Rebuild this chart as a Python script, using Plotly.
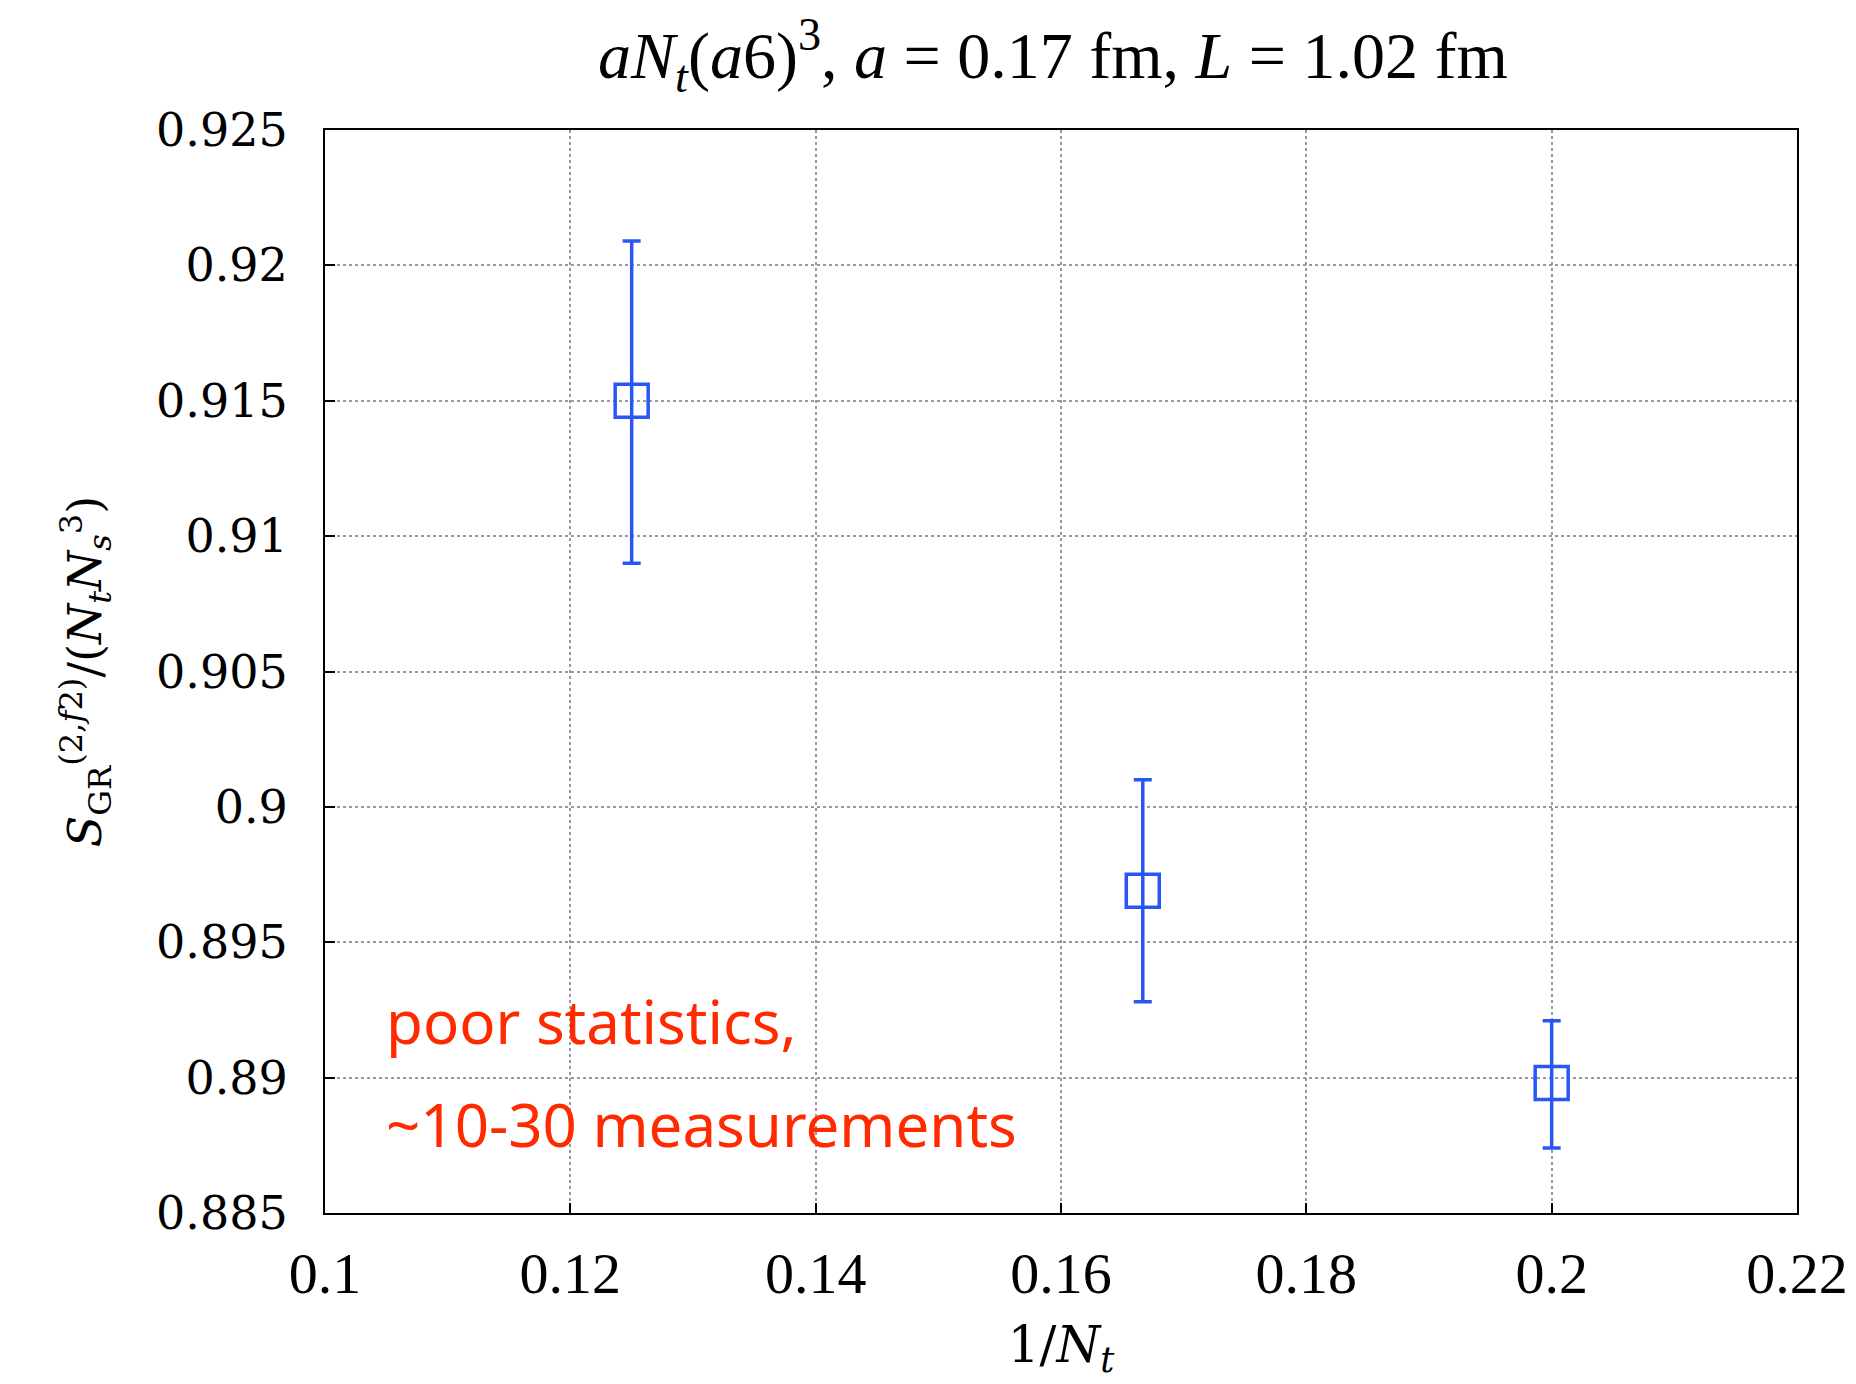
import plotly.graph_objects as go

inv_nt = [0.125, 1/6, 0.2]
s_val = [0.915, 0.8969, 0.8898]
s_err_plus = [0.0059, 0.0041, 0.0023]
s_err_minus = [0.0060, 0.0041, 0.0024]

x_ticks = [0.1, 0.12, 0.14, 0.16, 0.18, 0.2, 0.22]
x_ticktext = ["0.1", "0.12", "0.14", "0.16", "0.18", "0.2", "0.22"]
y_ticks = [0.885, 0.89, 0.895, 0.9, 0.905, 0.91, 0.915, 0.92, 0.925]
y_ticktext = ["0.885", "0.89", "0.895", "0.9", "0.905", "0.91", "0.915", "0.92", "0.925"]

blue = "#2a56f5"
red = "#ff2a00"
serif = "Liberation Serif, DejaVu Serif, serif"
wserif = "DejaVu Serif, Liberation Serif, serif"

fig = go.Figure()
fig.add_trace(go.Scatter(
    x=inv_nt, y=s_val, mode="markers",
    marker=dict(symbol="square-open", size=33, color=blue, line=dict(width=3.5, color=blue)),
    error_y=dict(type="data", array=s_err_plus, arrayminus=s_err_minus,
                 color=blue, thickness=3.5, width=9, visible=True),
    showlegend=False,
))

fig.add_annotation(x=0.1048, y=0.8921, xref="x", yref="y", xanchor="left", yanchor="middle",
                   text="poor statistics,", showarrow=False,
                   font=dict(family="Noto Sans, Lato, sans-serif", size=60, color=red))
fig.add_annotation(x=0.1048, y=0.8883, xref="x", yref="y", xanchor="left", yanchor="middle",
                   text="~10-30 measurements", showarrow=False,
                   font=dict(family="Noto Sans, Lato, sans-serif", size=60, color=red))

axis_common = dict(
    showline=True, linecolor="black", linewidth=2, mirror=True,
    showgrid=True, gridcolor="#999999", griddash="dot", gridwidth=1.5,
    ticks="inside", ticklen=10, tickcolor="black", tickwidth=1.5,
    zeroline=False,
)

fig.update_layout(
    width=1856, height=1384,
    margin=dict(l=317, r=67, t=122, b=179),
    plot_bgcolor="white", paper_bgcolor="white",
    title=dict(text="<i>aN<sub>t</sub></i>(<i>a</i>6)<sup>3</sup>, <i>a</i> = 0.17 fm, <i>L</i> = 1.02 fm",
               x=0.563, xanchor="center", y=0.966, yanchor="middle",
               font=dict(family=serif, size=66, color="black")),
    xaxis=dict(range=[0.1, 0.22], tickvals=x_ticks, ticktext=x_ticktext,
               tickfont=dict(family=serif, size=58, color="black"),
               ticklabelstandoff=8,
               title=dict(text="1/<i>N<sub>t</sub></i>", font=dict(family=wserif, size=50, color="black"), standoff=22),
               **axis_common),
    yaxis=dict(range=[0.885, 0.925], tickvals=y_ticks, ticktext=y_ticktext,
               tickfont=dict(family=wserif, size=46, color="black"),
               ticklabelstandoff=26,
               title=dict(text="<i>S</i><sub>GR</sub><sup>(2,<i>f</i>2)</sup>/(<i>N<sub>t</sub>N<sub>s</sub></i><sup>3</sup>)",
                          font=dict(family=wserif, size=46, color="black"), standoff=40),
               **axis_common),
)

fig.write_html("out.html")
